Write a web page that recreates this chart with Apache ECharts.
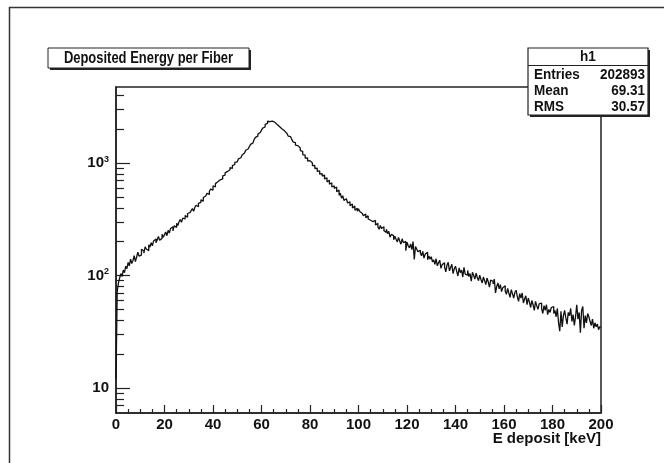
<!DOCTYPE html>
<html lang="en">
<head>
<meta charset="UTF-8">
<title>Deposited Energy per Fiber</title>
<script src="https://cdn.jsdelivr.net/npm/echarts@6/dist/echarts.min.js"></script>
<style>
    html, body { margin: 0; padding: 0; background: #fff; }
    #chart { width: 664px; height: 463px; }
</style>
</head>
<body>
<div id="chart"></div>
<script type="text/javascript">
    // histogram h1 : 400 bins of 0.5 keV, 0 - 200 keV
    var binWidth = 0.5;
    var counts = [
        12, 72, 86, 95, 104, 98, 112, 106, 121, 115,
        131, 122, 140, 128, 136, 150, 133, 146, 161, 149,
        152, 171, 165, 158, 180, 172, 166, 188, 179, 196,
        184, 203, 211, 196, 208, 222, 206, 214, 233, 219,
        231, 244, 226, 252, 239, 262, 271, 249, 276, 268,
        292, 278, 301, 315, 297, 324, 318, 341, 329, 356,
        362, 351, 378, 394, 372, 402, 421, 409, 438, 447,
        471, 458, 493, 510, 497, 538, 526, 559, 587, 574,
        628, 612, 656, 681, 664, 709, 735, 722, 770, 781,
        818, 842, 829, 871, 912, 896, 948, 971, 1012, 1026,
        1052, 1090, 1114, 1158, 1180, 1226, 1251, 1300, 1332, 1380,
        1402, 1466, 1512, 1570, 1622, 1690, 1735, 1808, 1866, 1930,
        1962, 2044, 2092, 2210, 2248, 2352, 2330, 2410, 2356, 2318,
        2304, 2226, 2196, 2118, 2100, 2022, 2004, 1938, 1932, 1858,
        1832, 1806, 1738, 1716, 1648, 1622, 1542, 1516, 1440, 1428,
        1380, 1362, 1288, 1270, 1190, 1176, 1104, 1112, 1042, 1050,
        1008, 1001, 948, 952, 894, 900, 842, 851, 796, 806,
        768, 782, 722, 738, 680, 702, 648, 668, 612, 628,
        596, 612, 556, 574, 516, 540, 488, 512, 466, 481,
        470, 441, 452, 418, 432, 398, 414, 381, 396, 372,
        392, 371, 358, 366, 341, 352, 327, 339, 318, 310,
        322, 301, 296, 309, 281, 292, 270, 258, 279, 262,
        271, 250, 241, 258, 236, 247, 219, 232, 226, 208,
        224, 210, 199, 218, 203, 190, 212, 196, 201, 166,
        198, 184, 176, 191, 170, 200, 139, 181, 172, 163,
        168, 159, 150, 164, 143, 155, 161, 138, 149, 140,
        147, 132, 138, 126, 141, 122, 130, 137, 116, 125,
        130, 119, 108, 124, 131, 110, 118, 126, 104, 115,
        121, 109, 99, 117, 106, 112, 97, 118, 103, 101,
        111, 98, 104, 89, 107, 100, 93, 105, 96, 90,
        101, 92, 86, 97, 90, 83, 95, 88, 79, 91,
        89, 84, 93, 70, 80, 86, 76, 83, 72, 78,
        81, 73, 68, 77, 70, 64, 75, 69, 63, 71,
        74, 65, 59, 69, 63, 70, 57, 62, 66, 55,
        63, 58, 52, 60, 55, 49, 59, 54, 50, 56,
        57, 51, 46, 54, 49, 55, 45, 50, 47, 52,
        53, 46, 49, 43, 51, 38, 32, 48, 35, 44,
        49, 42, 37, 47, 44, 51, 39, 45, 36, 43,
        55, 41, 47, 31, 49, 53, 34, 44, 38, 46,
        43, 39, 36, 41, 34, 38, 35, 37, 33, 35
    ];
    var yMajorTicks = [10, 100, 1000];
    var yMinorTicks = [7, 8, 9, 20, 30, 40, 50, 60, 70, 80, 90,
        200, 300, 400, 500, 600, 700, 800, 900, 2000, 3000, 4000];
    var statNames = ['Entries', 'Mean', 'RMS'];
    var statValues = ['202893', '69.31', '30.57'];

    var font = '"Liberation Sans", Arial, Helvetica, sans-serif';

    // step points at the low edge of each bin, plus the last upper edge
    var stepData = counts.map(function (v, i) {
        return [i * binWidth, v];
    });
    stepData.push([counts.length * binWidth, counts[counts.length - 1]]);

    function yLabel(val) {
        var e = Math.round(Math.log(val) / Math.LN10);
        if (e === 1) return '{b|10}';
        return '{b|10}{s|' + e + '}';
    }

    // ROOT's helvetica-bold looks condensed, so the box texts get squeezed a bit
    var graphics = [
        // canvas border
        {type: 'rect', z: 0, shape: {x: 9.5, y: 7.5, width: 700, height: 500},
            style: {fill: null, stroke: '#333', lineWidth: 1.5}},
        // title box
        {type: 'rect', z: 10, shape: {x: 50, y: 50, width: 201, height: 20}, style: {fill: '#222'}},
        {type: 'rect', z: 11, shape: {x: 48, y: 48, width: 201, height: 20},
            style: {fill: '#fff', stroke: '#222', lineWidth: 1}},
        {type: 'text', z: 12, x: 148.5, y: 58.5, scaleX: 0.81,
            style: {text: 'Deposited Energy per Fiber', font: 'bold 16px ' + font, fill: '#111',
                textAlign: 'center', textVerticalAlign: 'middle'}},
        // stats box
        {type: 'rect', z: 10, shape: {x: 530, y: 50, width: 120, height: 67}, style: {fill: '#222'}},
        {type: 'rect', z: 11, shape: {x: 528, y: 48, width: 120, height: 67},
            style: {fill: '#fff', stroke: '#222', lineWidth: 1.2}},
        {type: 'line', z: 12, shape: {x1: 528, y1: 65.5, x2: 648, y2: 65.5},
            style: {stroke: '#222', lineWidth: 1.2}},
        {type: 'text', z: 12, x: 588, y: 57, scaleX: 0.9,
            style: {text: 'h1', font: 'bold 15px ' + font, fill: '#111',
                textAlign: 'center', textVerticalAlign: 'middle'}},
        // x axis title
        {type: 'text', z: 12, x: 601, y: 439,
            style: {text: 'E deposit [keV]', font: 'bold 15px ' + font, fill: '#111',
                textAlign: 'right', textVerticalAlign: 'middle'}}
    ];
    statNames.forEach(function (name, i) {
        var y = 74.5 + i * 16.2;
        graphics.push({type: 'text', z: 12, x: 534, y: y, scaleX: 0.9,
            style: {text: name, font: 'bold 15px ' + font, fill: '#111', textAlign: 'left', textVerticalAlign: 'middle'}});
        graphics.push({type: 'text', z: 12, x: 645, y: y, scaleX: 0.9,
            style: {text: statValues[i], font: 'bold 15px ' + font, fill: '#111', textAlign: 'right', textVerticalAlign: 'middle'}});
    });

    var option = {
        animation: false,
        backgroundColor: '#fff',
        grid: {
            left: 116, top: 87, width: 485, height: 326,
            show: true, borderColor: '#222', borderWidth: 1.5, backgroundColor: '#fff'
        },
        xAxis: {
            type: 'value',
            min: 0, max: 200, interval: 20,
            axisLine: {show: true, lineStyle: {color: '#222', width: 1.5}},
            axisTick: {show: true, inside: true, length: 8, lineStyle: {color: '#222', width: 1.2}},
            minorTick: {show: true, splitNumber: 4, length: 4, lineStyle: {color: '#222', width: 1.2}},
            splitLine: {show: false},
            axisLabel: {color: '#111', fontFamily: font, fontWeight: 'bold', fontSize: 15, margin: 4}
        },
        yAxis: [{
            type: 'log', logBase: 10,
            min: 6, max: 4740,
            axisLine: {show: true, lineStyle: {color: '#222', width: 1.5}},
            axisTick: {show: true, inside: true, length: 14, customValues: yMajorTicks,
                lineStyle: {color: '#222', width: 1.2}},
            splitLine: {show: false},
            axisLabel: {
                customValues: yMajorTicks, margin: 7,
                formatter: yLabel,
                rich: {
                    b: {color: '#111', fontFamily: font, fontWeight: 'bold', fontSize: 15},
                    s: {color: '#111', fontFamily: font, fontWeight: 'bold', fontSize: 9, padding: [0, 0, 8, 0]}
                }
            }
        }, {
            type: 'log', logBase: 10,
            min: 6, max: 4740, position: 'left',
            axisLine: {show: false},
            axisTick: {show: true, inside: true, length: 8, customValues: yMinorTicks,
                lineStyle: {color: '#222', width: 1.2}},
            axisLabel: {show: false},
            splitLine: {show: false}
        }],
        graphic: graphics,
        series: [{
            type: 'line',
            step: 'end',
            yAxisIndex: 0,
            data: stepData,
            showSymbol: false,
            lineStyle: {color: '#111', width: 1.3},
            z: 3
        }]
    };

    var myChart = echarts.init(document.getElementById('chart'));
    myChart.setOption(option);
</script>
</body>
</html>
